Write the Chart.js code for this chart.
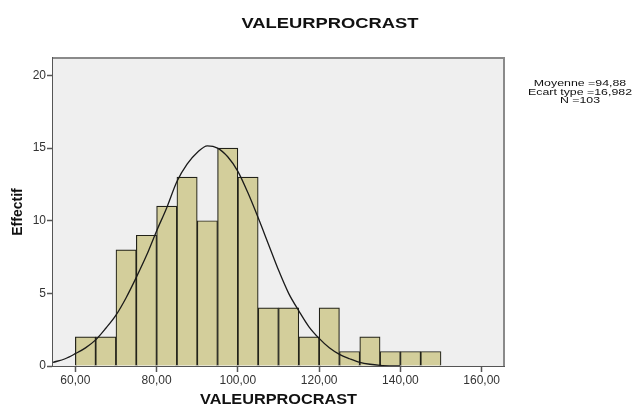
<!DOCTYPE html>
<html>
<head>
<meta charset="utf-8">
<script src="https://cdn.jsdelivr.net/npm/chart.js@4/dist/chart.umd.min.js"></script>
<style>
  html, body { margin: 0; padding: 0; background: #fff; }
  #wrap { width: 633px; height: 405px; position: relative; }
</style>
</head>
<body>
<div id="wrap"><canvas id="histChart"></canvas></div>
<script>
// histogram bins (centre of each 5-point bin) and counts
const binCenters = [62.5, 67.5, 72.5, 77.5, 82.5, 87.5, 92.5, 97.5, 102.5, 107.5, 112.5, 117.5, 122.5, 127.5, 132.5, 137.5, 142.5, 147.5];
const binCounts = [2, 2, 8, 9, 11, 13, 10, 15, 13, 4, 4, 2, 4, 1, 2, 1, 1, 1];

// normal curve
const curveX = [54.5, 57.5, 60, 62.5, 65, 67.5, 70, 72.5, 75, 77.5, 80, 82.5, 85, 87.5, 90, 92.5, 95, 97.5, 100, 102.5, 105, 107.5, 110, 112.5, 115, 117.5, 120, 122.5, 125, 127.5, 130, 132.5, 135, 140];
const curveY = [0.25, 0.5, 0.85, 1.25, 1.8, 2.6, 3.5, 4.7, 6.1, 7.6, 9.3, 10.9, 12.7, 13.9, 14.7, 15.15, 15.0, 14.4, 13.4, 11.9, 10.2, 8.4, 6.6, 5.0, 3.8, 2.7, 1.9, 1.25, 0.8, 0.5, 0.25, 0.12, 0.05, 0];

const xTicks = [60, 80, 100, 120, 140, 160];
const yTicks = [0, 5, 10, 15, 20];
const statsLines = ["Moyenne =94,88", "Ecart type =16,982", "N =103"];
const chartTitle = "VALEURPROCRAST";
const xTitle = "VALEURPROCRAST";

const FONT = "'Liberation Sans', Arial, sans-serif";

// SPSS text looks a bit wider than Arial, so stretch horizontally
function wideText(ctx, text, x, y, sx) {
  ctx.save();
  ctx.translate(x, y);
  ctx.scale(sx, 1);
  ctx.fillText(text, 0, 0);
  ctx.restore();
}

const decor = {
  id: "decor",
  beforeDatasetsDraw(chart) {
    const { ctx, chartArea: a } = chart;
    ctx.save();
    ctx.fillStyle = "#efefef";
    ctx.fillRect(a.left, a.top, a.right - a.left, a.bottom - a.top);
    ctx.strokeStyle = "#8a8a8a";
    ctx.lineWidth = 2;
    ctx.beginPath();
    ctx.moveTo(a.left, a.top);
    ctx.lineTo(a.right, a.top);
    ctx.lineTo(a.right, a.bottom);
    ctx.stroke();
    ctx.restore();
  },
  afterDraw(chart) {
    const { ctx, chartArea: a } = chart;
    ctx.save();
    ctx.fillStyle = "#111";
    ctx.textAlign = "center";
    ctx.textBaseline = "middle";
    ctx.font = "bold 15px " + FONT;
    wideText(ctx, chartTitle, 330, 24, 177 / ctx.measureText(chartTitle).width);
    ctx.font = "bold 14px " + FONT;
    wideText(ctx, xTitle, (a.left + a.right) / 2, 400, 157 / ctx.measureText(xTitle).width);
    ctx.font = "9px " + FONT;
    const sx = 104 / ctx.measureText(statsLines[1]).width;
    statsLines.forEach((t, i) => wideText(ctx, t, 580, 83.5 + i * 8.7, sx));
    ctx.restore();
  }
};

new Chart(document.getElementById("histChart"), {
  type: "bar",
  data: {
    datasets: [
      {
        type: "line",
        data: curveX.map((x, i) => ({ x, y: curveY[i] })),
        borderColor: "#1a1a1a",
        borderWidth: 1.3,
        pointRadius: 0,
        cubicInterpolationMode: "monotone",
        order: 0
      },
      {
        type: "bar",
        data: binCenters.map((x, i) => ({ x, y: binCounts[i] })),
        backgroundColor: "#d3ce9b",
        borderColor: "#222219",
        borderWidth: 1.2,
        barPercentage: 1,
        categoryPercentage: 1,
        order: 1
      }
    ]
  },
  options: {
    responsive: true,
    maintainAspectRatio: false,
    animation: false,
    layout: { padding: { top: 58, right: 129, left: 0, bottom: 0 } },
    plugins: {
      legend: { display: false },
      tooltip: { enabled: false }
    },
    scales: {
      x: {
        type: "linear",
        min: 54.5,
        max: 165.5,
        offset: false,
        afterBuildTicks: s => { s.ticks = xTicks.map(v => ({ value: v })); },
        afterFit: s => { s.height = 39; },
        grid: { offset: false, drawOnChartArea: false, drawTicks: true, tickLength: 6, tickColor: "#555", tickWidth: 1.5 },
        border: { display: true, color: "#555", width: 2 },
        ticks: {
          padding: 1.5,
          color: "#333",
          font: { family: FONT, size: 12 },
          maxRotation: 0,
          callback: v => v.toFixed(2).replace(".", ",")
        }
      },
      y: {
        min: 0,
        max: 21.2,
        afterBuildTicks: s => { s.ticks = yTicks.map(v => ({ value: v })); },
        afterFit: s => { s.width = 53; },
        grid: { drawOnChartArea: false, drawTicks: true, tickLength: 6, tickColor: "#555", tickWidth: 1.5 },
        border: { display: true, color: "#555", width: 2 },
        ticks: {
          padding: 1,
          color: "#333",
          font: { family: FONT, size: 12 }
        },
        title: {
          display: true,
          text: "Effectif",
          color: "#111",
          font: { family: FONT, size: 14, weight: "bold" },
          padding: { top: 10, bottom: 0 }
        }
      }
    }
  },
  plugins: [decor]
});
</script>
</body>
</html>
